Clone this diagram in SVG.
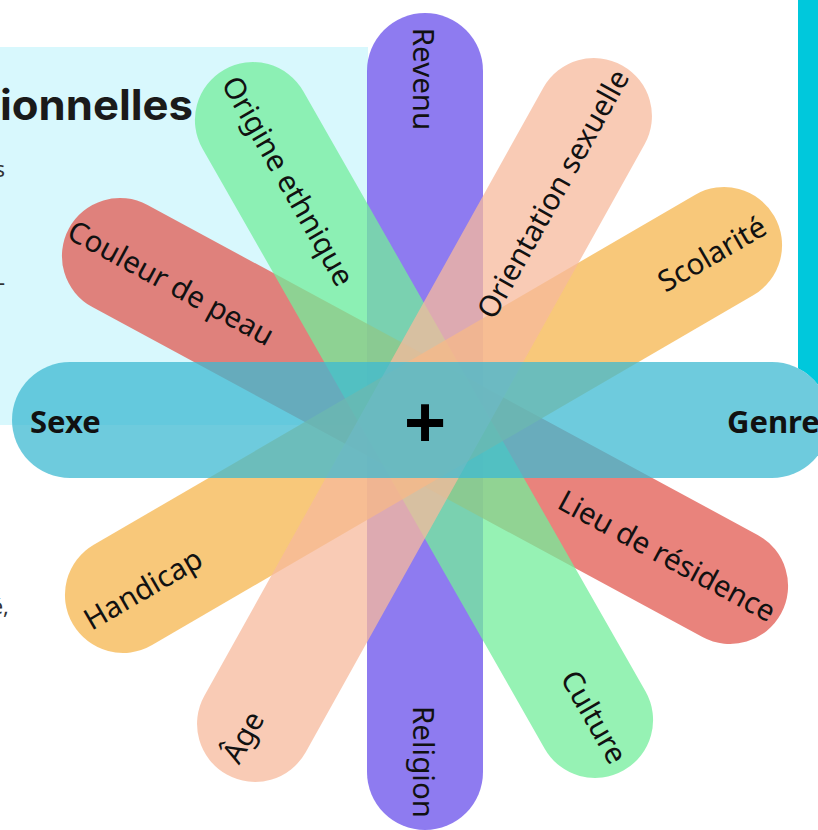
<svg xmlns="http://www.w3.org/2000/svg" width="818" height="830" viewBox="0 0 818 830">
  <style>
    .petal { opacity: 0.75; }
    .lbl { font-family: "Noto Sans", "Open Sans", sans-serif; font-size: 29.5px; fill: #111; text-anchor: middle; }
    .bold { font-family: "Noto Sans", "Open Sans", sans-serif; font-size: 31px; font-weight: 700; fill: #111; }
    .side { font-family: "Noto Sans", "Liberation Sans", sans-serif; font-size: 22px; fill: #333; text-anchor: end; }
  </style>
  <rect x="0" y="0" width="818" height="830" fill="#ffffff"/>
  <!-- background panels -->
  <rect x="0" y="47" width="368" height="378" fill="#D8F8FD"/>
  <path d="M798 0 H818 V384.7 A58 58 0 0 0 798 368.2 Z" fill="#00C8DC"/>
  <text x="0" y="120" textLength="193" lengthAdjust="spacingAndGlyphs" font-family="Inter, 'Liberation Sans', sans-serif" font-size="42" font-weight="700" fill="#1a1a1a">ionnelles</text>
  <text class="side" x="5" y="177">s</text>
  <text class="side" x="5" y="290">-</text>
  <text class="side" x="9" y="614">é,</text>

  <!-- petals -->
  <g id="revenu-religion">
    <rect class="petal" x="-408.5" y="-58" width="817" height="116" rx="58" fill="#684FEB" transform="translate(425 421.5) rotate(90)"/>
    <text class="lbl" dy="0.35em" transform="translate(423 79) rotate(90)">Revenu</text>
    <text class="lbl" dy="0.35em" transform="translate(423 762) rotate(90)">Religion</text>
  </g>
  <g id="couleur-lieu">
    <rect class="petal" x="-404.8" y="-58" width="809.6" height="116" rx="58" fill="#E25A50" transform="translate(425 421) rotate(28.4)"/>
    <text class="lbl" dy="0.35em" transform="translate(171 283) rotate(28.4)">Couleur de peau</text>
    <text class="lbl" dy="0.35em" transform="translate(667 556) rotate(28.4)">Lieu de résidence</text>
  </g>
  <g id="origine-culture">
    <rect class="petal" x="-403.3" y="-58" width="806.6" height="116" rx="58" fill="#73EE9B" transform="translate(424 420) rotate(60.3)"/>
    <text class="lbl" dy="0.35em" transform="translate(288 181) rotate(60.3)">Origine ethnique</text>
    <text class="lbl" dy="0.35em" transform="translate(594 717) rotate(60.3)">Culture</text>
  </g>
  <g id="scolarite-handicap">
    <rect class="petal" x="-405.75" y="-58" width="811.5" height="116" rx="58" fill="#F6B64E" transform="translate(423.5 420) rotate(-30.2)"/>
    <text class="lbl" dy="0.35em" transform="translate(712 254) rotate(-30.2)">Scolarité</text>
    <text class="lbl" dy="0.35em" transform="translate(143 589) rotate(-30.2)">Handicap</text>
  </g>
  <g id="orientation-age">
    <rect class="petal" x="-406" y="-58" width="812" height="116" rx="58" fill="#F7BA9C" transform="translate(424.5 420) rotate(-60.86)"/>
    <text class="lbl" dy="0.35em" transform="translate(553 194) rotate(-60.86)">Orientation sexuelle</text>
    <text class="lbl" dy="0.35em" transform="translate(243 737) rotate(-60.86)">Âge</text>
  </g>
  <g id="sexe-genre">
    <rect class="petal" x="12" y="362" width="818" height="116" rx="58" fill="#3EBAD2"/>
    <text class="bold" x="30" y="433">Sexe</text>
    <text class="bold" x="727" y="433">Genre</text>
  </g>
  <g id="center">
    <text x="425" y="447" font-family="'Liberation Sans', sans-serif" font-size="72" font-weight="700" fill="#000" text-anchor="middle">+</text>
  </g>
  <g id="connectors"></g>
</svg>
